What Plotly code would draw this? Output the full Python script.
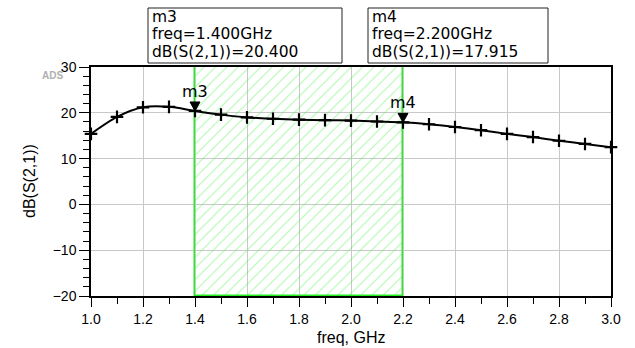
import plotly.graph_objects as go

# ---- data ----
freq = [1.0, 1.1, 1.2, 1.3, 1.4, 1.5, 1.6, 1.7, 1.8, 1.9, 2.0,
        2.1, 2.2, 2.3, 2.4, 2.5, 2.6, 2.7, 2.8, 2.9, 3.0]
s21_db = [15.4, 19.1, 21.2, 21.3, 20.4, 19.6, 19.0, 18.7, 18.5, 18.4, 18.3,
          18.1, 17.915, 17.5, 16.9, 16.2, 15.4, 14.7, 13.9, 13.2, 12.5]
marker_names = ["m3", "m4"]
marker_freq = [1.4, 2.2]
marker_vals = [20.400, 17.915]
x_range = [1.0, 3.0]
y_range = [-20, 30]

# ---- layout geometry ----
W, H = 635, 348
ML, MR, MT, MB = 91, 24, 67, 52
PW, PH = W - ML - MR, H - MT - MB

def px(x):
    return (x - ML) / PW

def py(y):
    return (H - MB - y) / PH

FONT = "Liberation Sans, Arial, sans-serif"
BOXFONT = "DejaVu Sans, Liberation Sans, sans-serif"

fig = go.Figure()

# hatched band between markers
fig.add_trace(go.Bar(
    x=[(marker_freq[0] + marker_freq[1]) / 2],
    y=[y_range[1] - y_range[0]],
    base=[y_range[0]],
    width=[marker_freq[1] - marker_freq[0]],
    marker=dict(color="rgba(0,0,0,0)",
                line=dict(color="#22ee22", width=1.5),
                pattern=dict(shape="/", fgcolor="#55ee55", bgcolor="rgba(0,0,0,0)",
                             size=8, solidity=0.12)),
    hoverinfo="skip", showlegend=False,
))

# curve
fig.add_trace(go.Scatter(
    x=freq, y=s21_db, mode="lines+markers",
    line=dict(color="black", width=2, shape="spline", smoothing=0.8),
    marker=dict(symbol="cross-thin", size=9, line=dict(color="black", width=2.2)),
    showlegend=False, cliponaxis=False,
))

shapes = []
annotations = []

# marker triangles and labels
for name, f, v in zip(marker_names, marker_freq, marker_vals):
    shapes.append(dict(
        type="path", xref="x", yref="y", xsizemode="pixel", ysizemode="pixel",
        xanchor=f, yanchor=v, path="M -5 9 L 5 9 L 0 0 Z",
        fillcolor="black", line=dict(color="black", width=1), layer="above",
    ))
    annotations.append(dict(
        x=f, y=v, xref="x", yref="y", text=name, showarrow=False,
        xanchor="center", yanchor="bottom", yshift=8,
        font=dict(family=BOXFONT, size=16, color="black"),
    ))

# marker readout boxes
boxes = [(148, 342), (368, 548)]
for (l, r), name, f, v in zip(boxes, marker_names, marker_freq, marker_vals):
    shapes.append(dict(
        type="rect", xref="paper", yref="paper",
        x0=px(l), x1=px(r), y0=py(63), y1=py(8),
        line=dict(color="#222222", width=1), fillcolor="white", layer="above",
    ))
    lines = [name, f"freq={f:.3f}GHz", f"dB(S(2,1))={v:.3f}"]
    for i, t in enumerate(lines):
        annotations.append(dict(
            x=px(l + 2), y=py(16.5 + 18 * i), xref="paper", yref="paper",
            text=t, showarrow=False, xanchor="left", yanchor="middle",
            font=dict(family=BOXFONT, size=15.5, color="black"),
        ))

# ADS label
annotations.append(dict(
    x=px(52), y=py(75), xref="paper", yref="paper", text="<b>ADS</b>",
    showarrow=False, xanchor="center", yanchor="middle",
    font=dict(family=FONT, size=10, color="#b0b0b0"),
))
# axis titles
annotations.append(dict(
    x=0.5, y=py(337), xref="paper", yref="paper", text="freq, GHz",
    showarrow=False, xanchor="center", yanchor="middle",
    font=dict(family=FONT, size=16, color="black"),
))
annotations.append(dict(
    x=px(29), y=py(181), xref="paper", yref="paper", text="dB(S(2,1))",
    showarrow=False, xanchor="center", yanchor="middle", textangle=-90,
    font=dict(family=FONT, size=16, color="black"),
))

fig.update_layout(
    width=W, height=H,
    margin=dict(l=ML, r=MR, t=MT, b=MB, pad=0),
    paper_bgcolor="white", plot_bgcolor="white",
    shapes=shapes, annotations=annotations,
    bargap=0,
    xaxis=dict(
        range=x_range, dtick=0.2, tick0=1.0, tickformat=".1f",
        showgrid=True, gridcolor="#c8c8c8", gridwidth=1,
        showline=True, linecolor="black", linewidth=1.5, mirror=True,
        ticks="outside", ticklen=9, tickwidth=1.2, tickcolor="black",
        minor=dict(dtick=0.1, ticks="outside", ticklen=6, tickcolor="black", showgrid=False),
        tickfont=dict(family=FONT, size=14, color="black"),
        zeroline=False, fixedrange=True,
    ),
    yaxis=dict(
        range=y_range, dtick=10, tick0=0,
        showgrid=True, gridcolor="#c8c8c8", gridwidth=1,
        showline=True, linecolor="black", linewidth=1.5, mirror=True,
        ticks="outside", ticklen=10, tickwidth=1.2, tickcolor="black",
        minor=dict(dtick=2, ticks="outside", ticklen=6, tickcolor="black", showgrid=False),
        tickfont=dict(family=FONT, size=14, color="black"),
        zeroline=False, fixedrange=True,
    ),
)

fig.write_html("out.html")
